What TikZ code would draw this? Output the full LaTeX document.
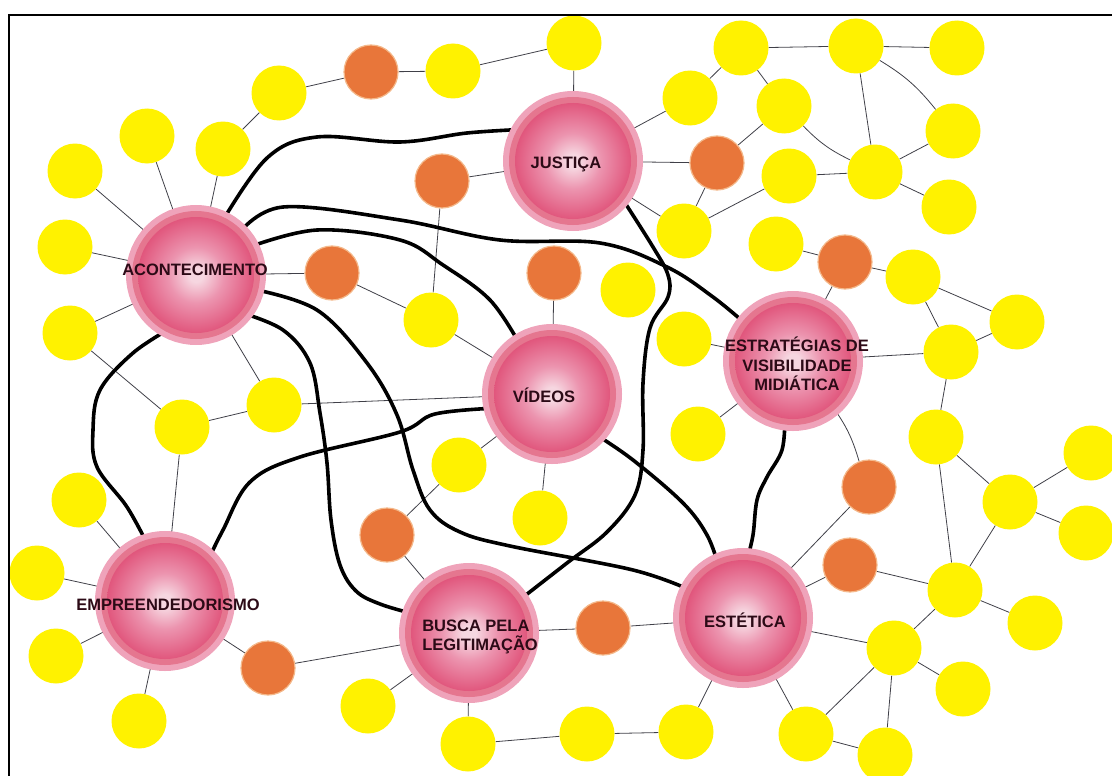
\documentclass[tikz,border=0pt]{standalone}
\usepackage{fontspec}
\setmainfont{Liberation Sans}
\usetikzlibrary{backgrounds}
\definecolor{colorballc}{HTML}{F6D6E0}
\definecolor{colorballl}{HTML}{EC94AF}
\definecolor{colorballm}{HTML}{E05279}
\definecolor{colorball}{HTML}{D9406A}
\definecolor{colorballr}{HTML}{E2628A}
\definecolor{colorring}{HTML}{E5768F}
\definecolor{colorhalo}{HTML}{EFA3BA}
\definecolor{colortext}{HTML}{2C0A16}
\definecolor{coloryel}{HTML}{FFF200}
\definecolor{colororg}{HTML}{E8763A}
\definecolor{colororgrim}{HTML}{F4B88A}
\definecolor{colorthin}{HTML}{404048}
\pgfdeclareradialshading{ballshade}{\pgfpoint{0bp}{0bp}}{color(0bp)=(colorballc); color(3bp)=(colorballc); color(12bp)=(colorballl); color(26bp)=(colorballm); color(36bp)=(colorball); color(46bp)=(colorball); color(50bp)=(colorballr)}
\tikzset{
  bigball/.style={circle, minimum size=116pt, inner sep=0pt, shading=ballshade,
    preaction={draw=colorhalo, line width=24pt}, preaction={draw=colorring, line width=12pt}},
  balltext/.style={text=colortext, font=\fontsize{16.5}{19.5}\selectfont\bfseries, inner sep=0pt, align=center},
  ynode/.style={circle, fill=coloryel, minimum size=55pt, inner sep=0pt},
  onode/.style={circle, fill=colororg, draw=colororgrim, line width=1.2pt, minimum size=54pt, inner sep=0pt},
  thinedge/.style={colorthin, line width=0.8pt},
  thickedge/.style={black, line width=3.6pt, line cap=round}
}

\begin{document}
\begin{tikzpicture}[x=1pt, y=-1pt]
\useasboundingbox (0,0) rectangle (1112,776);
\node[bigball] (acon) at (196,275) {};
\node[bigball] (just) at (573,161) {};
\node[bigball] (vid) at (552,394) {};
\node[bigball] (estr) at (793,361) {};
\node[bigball] (empr) at (165,601) {};
\node[bigball] (busca) at (469,633) {};
\node[bigball] (est) at (743,618) {};
\node[balltext, anchor=base] (lacon) at (195,275) {ACONTECIMENTO};
\node[balltext, anchor=base] (ljust) at (566,168) {JUSTIÇA};
\node[balltext, anchor=base] (lvid) at (544,402) {VÍDEOS};
\node[balltext] (lestr) at (797,364) {ESTRATÉGIAS DE\\VISIBILIDADE\\MIDIÁTICA};
\node[balltext, anchor=base] (lempr) at (168,610) {EMPREENDEDORISMO};
\node[balltext, align=left] (lbusca) at (480,637) {BUSCA PELA\\LEGITIMAÇÃO};
\node[balltext, anchor=base] (lest) at (745,627) {ESTÉTICA};

\node[ynode] (y1) at (279,93) {};
\node[onode] (o1) at (371,72) {};
\node[ynode] (y2) at (453,71) {};
\node[ynode] (y3) at (574,43) {};
\node[ynode] (y4) at (741,48) {};
\node[ynode] (y5) at (856,46) {};
\node[ynode] (y6) at (957,48) {};
\node[ynode] (y7) at (223,149) {};
\node[ynode] (y8) at (147,136) {};
\node[ynode] (y9) at (75,171) {};
\node[ynode] (y10) at (65,247) {};
\node[ynode] (y11) at (690,98) {};
\node[ynode] (y12) at (784,106) {};
\node[ynode] (y13) at (953,131) {};
\node[onode] (o2) at (442,181) {};
\node[onode] (o3) at (717,163) {};
\node[ynode] (y14) at (789,176) {};
\node[ynode] (y15) at (875,172) {};
\node[ynode] (y16) at (949,207) {};
\node[ynode] (y17) at (684,231) {};
\node[ynode] (y18) at (776,244) {};
\node[ynode] (y19) at (628,290) {};
\node[onode] (o4) at (554,273) {};
\node[onode] (o5) at (332,273) {};
\node[onode] (o6) at (845,262) {};
\node[ynode] (y20) at (913,277) {};
\node[ynode] (y21) at (431,320) {};
\node[ynode] (y22) at (684,339) {};
\node[ynode] (y23) at (70,333) {};
\node[ynode] (y24) at (274,405) {};
\node[ynode] (y25) at (182,427) {};
\node[ynode] (y26) at (79,500) {};
\node[ynode] (y27) at (1017,322) {};
\node[ynode] (y28) at (951,352) {};
\node[ynode] (y29) at (698,434) {};
\node[ynode] (y30) at (936,437) {};
\node[ynode] (y31) at (459,465) {};
\node[onode] (o7) at (869,487) {};
\node[ynode] (y32) at (1091,453) {};
\node[ynode] (y33) at (1010,502) {};
\node[ynode] (y34) at (1086,533) {};
\node[ynode] (y35) at (540,518) {};
\node[onode] (o8) at (387,535) {};
\node[onode] (o9) at (850,565) {};
\node[ynode] (y36) at (955,590) {};
\node[ynode] (y37) at (1035,623) {};
\node[ynode] (y38) at (894,648) {};
\node[ynode] (y39) at (963,689) {};
\node[ynode] (y40) at (806,734) {};
\node[ynode] (y41) at (885,755) {};
\node[ynode] (y42) at (686,732) {};
\node[ynode] (y43) at (587,734) {};
\node[ynode] (y44) at (468,744) {};
\node[ynode] (y45) at (368,706) {};
\node[onode] (o10) at (603,628) {};
\node[onode] (o11) at (268,668) {};
\node[ynode] (y46) at (139,721) {};
\node[ynode] (y47) at (56,656) {};
\node[ynode] (y48) at (37,573) {};

\begin{scope}[on background layer]
\draw[thinedge] (y1) -- (o1);
\draw[thinedge] (y1) -- (y7);
\draw[thinedge] (y7) -- (acon);
\draw[thinedge] (y8) -- (acon);
\draw[thinedge] (y9) -- (acon);
\draw[thinedge] (y10) -- (acon);
\draw[thinedge] (acon) -- (o5);
\draw[thinedge] (o5) -- (y21);
\draw[thinedge] (o1) -- (y2);
\draw[thinedge] (y2) -- (y3);
\draw[thinedge] (y3) -- (just);
\draw[thinedge] (o2) -- (just);
\draw[thinedge] (o2) -- (y21);
\draw[thinedge] (just) -- (y11);
\draw[thinedge] (just) -- (o3);
\draw[thinedge] (just) -- (y17);
\draw[thinedge] (o3) -- (y17);
\draw[thinedge] (o3) -- (y12);
\draw[thinedge] (y11) -- (y4);
\draw[thinedge] (y4) -- (y12);
\draw[thinedge] (y4) -- (y5);
\draw[thinedge] (y17) -- (y14);
\draw[thinedge] (y5) -- (y6);
\draw[thinedge] (y5) -- (y15);
\draw[thinedge] (y5) to[bend left=10] (y13);
\draw[thinedge] (y12) to[bend right=10] (y15);
\draw[thinedge] (y15) -- (y13);
\draw[thinedge] (y15) -- (y16);
\draw[thinedge] (y14) -- (y15);
\draw[thinedge] (y18) -- (o6);
\draw[thinedge] (o6) -- (y20);
\draw[thinedge] (o6) -- (estr);
\draw[thinedge] (y20) -- (y27);
\draw[thinedge] (y20) -- (y28);
\draw[thinedge] (estr) -- (y28);
\draw[thinedge] (y28) -- (y27);
\draw[thinedge] (y28) -- (y30);
\draw[thinedge] (y30) -- (y33);
\draw[thinedge] (y30) -- (y36);
\draw[thinedge] (y33) -- (y32);
\draw[thinedge] (y33) -- (y34);
\draw[thinedge] (y33) -- (y36);
\draw[thinedge] (estr) to[bend left=10] (o7);
\draw[thinedge] (o7) -- (est);
\draw[thinedge] (y22) -- (estr);
\draw[thinedge] (y29) -- (estr);
\draw[thinedge] (y21) -- (vid);
\draw[thinedge] (o4) -- (vid);
\draw[thinedge] (y24) -- (vid);
\draw[thinedge] (vid) -- (y31);
\draw[thinedge] (vid) -- (y35);
\draw[thinedge] (y31) -- (o8);
\draw[thinedge] (acon) -- (y23);
\draw[thinedge] (y23) -- (y25);
\draw[thinedge] (acon) -- (y24);
\draw[thinedge] (y25) -- (y24);
\draw[thinedge] (y25) -- (empr);
\draw[thinedge] (y26) -- (empr);
\draw[thinedge] (y48) -- (empr);
\draw[thinedge] (y47) -- (empr);
\draw[thinedge] (empr) -- (y46);
\draw[thinedge] (empr) -- (o11);
\draw[thinedge] (o11) -- (busca);
\draw[thinedge] (y45) -- (busca);
\draw[thinedge] (o8) -- (busca);
\draw[thinedge] (busca) -- (o10);
\draw[thinedge] (o10) -- (est);
\draw[thinedge] (busca) -- (y44);
\draw[thinedge] (y44) -- (y43);
\draw[thinedge] (y43) -- (y42);
\draw[thinedge] (est) -- (y42);
\draw[thinedge] (est) -- (y40);
\draw[thinedge] (est) -- (o9);
\draw[thinedge] (o9) -- (y36);
\draw[thinedge] (est) -- (y38);
\draw[thinedge] (y38) -- (y36);
\draw[thinedge] (y36) -- (y37);
\draw[thinedge] (y38) -- (y39);
\draw[thinedge] (y38) -- (y40);
\draw[thinedge] (y38) -- (y41);
\draw[thinedge] (y40) -- (y41);

\draw[thickedge] plot[smooth, tension=0.6] coordinates {(acon.64) (267,158) (317,137) (400,142) (467,133) (just.147)};
\draw[thickedge] plot[smooth, tension=0.6] coordinates {(acon.44) (283,207) (400,220) (500,240) (600,243) (667,267) (713,297) (estr.142)};
\draw[thickedge] plot[smooth, tension=0.6] coordinates {(acon.28) (317,230) (400,240) (443,265) (490,300) (vid.123)};
\draw[thickedge] plot[smooth, tension=0.6] coordinates {(just.-36) (653,247) (668,275) (668,297) (650,328) (643,383) (643,450) (635,495) (607,532) (567,563) (busca.33)};
\draw[thickedge] plot[smooth, tension=0.6] coordinates {(acon.-14) (317,310) (367,363) (397,415) (413,470) (430,510) (460,532) (510,546) (633,570) (est.152)};
\draw[thickedge] plot[smooth, tension=0.6] coordinates {(acon.-40) (283,330) (310,363) (320,413) (327,463) (331,520) (340,565) (356,591) (380,604) (busca.161)};
\draw[thickedge] plot[smooth, tension=0.6] coordinates {(acon.-115) (133,353) (100,390) (93,430) (97,467) (127,507) (empr.107)};
\draw[thickedge] plot[smooth, tension=0.6] coordinates {(empr.43) (223,530) (250,482) (300,457) (400,432) (435,414) (vid.194)};
\draw[thickedge] plot[smooth, tension=0.6] coordinates {(vid.-43) (633,460) (683,503) (707,535) (est.115)};
\draw[thickedge] plot[smooth, tension=0.6] coordinates {(estr.-98) (782,450) (767,477) (757,500) (753,535) (est.86)};
\end{scope}

\draw[line width=2.6pt] (9,15) rectangle (1130,790);
\end{tikzpicture}
\end{document}
